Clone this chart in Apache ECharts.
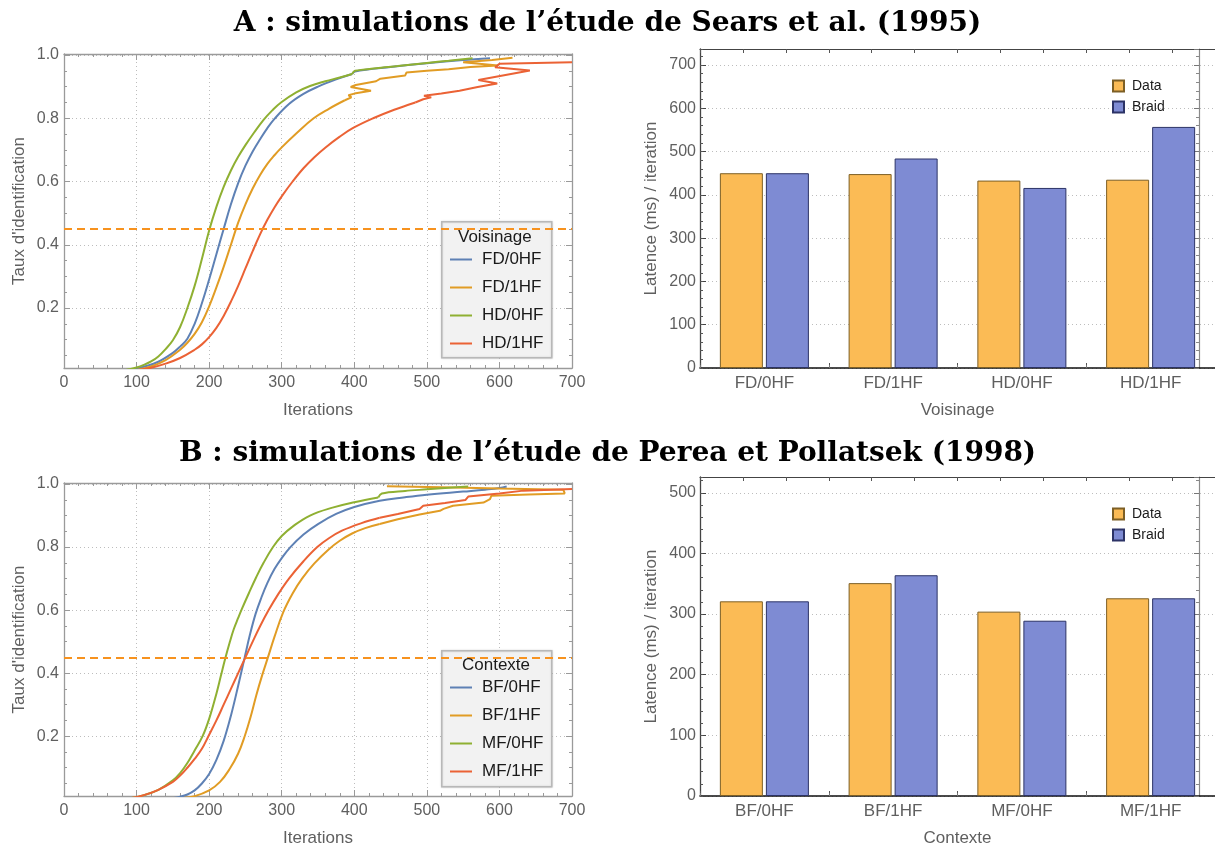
<!DOCTYPE html>
<html><head><meta charset="utf-8">
<script src="https://cdn.jsdelivr.net/npm/echarts@6/dist/echarts.min.js"></script>
<style>html,body{margin:0;padding:0;background:#fff}#c{width:1215px;height:848px}</style>
</head><body><div id="c"></div>
<script>
// ---------- DATA ----------
const titleA = "A : simulations de l\u2019étude de Sears et al. (1995)";
const titleB = "B : simulations de l\u2019étude de Perea et Pollatsek (1998)";
const lineNamesA = ['FD/0HF','FD/1HF','HD/0HF','HD/1HF'];
const lineNamesB = ['BF/0HF','BF/1HF','MF/0HF','MF/1HF'];
const legendTitleA = 'Voisinage';
const legendTitleB = 'Contexte';
const xTickLabels = ['0','100','200','300','400','500','600','700'];
const yTickLabels = ['0.2','0.4','0.6','0.8','1.0'];
const threshold = 0.45;

// Panel A curves (main part = smooth rise, tail = late part)
const A_FD0HF = [[93,0.004],[110,0.014],[130,0.03],[150,0.058],[160,0.078],[170,0.103],[180,0.15],[190,0.215],[200,0.29],[210,0.37],[220,0.45],[230,0.528],[240,0.595],[250,0.65],[260,0.695],[270,0.733],[280,0.768],[290,0.798],[310,0.845],[330,0.877],[350,0.9],[375,0.923],[397,0.94]];
const A_FD0HF_tail = [[397,0.94],[401,0.948],[450,0.962],[500,0.974],[550,0.984],[587,0.99]];
const A_FD1HF = [[100,0.004],[120,0.015],[140,0.035],[160,0.068],[170,0.09],[180,0.118],[190,0.155],[200,0.205],[210,0.265],[220,0.33],[230,0.4],[240,0.47],[250,0.528],[260,0.578],[270,0.62],[280,0.655],[290,0.683],[300,0.708],[320,0.752],[344,0.8],[365,0.83],[387,0.857]];
const A_FD1HF_tail = [[387,0.857],[396,0.866],[392,0.873],[400,0.878],[423,0.887],[395,0.899],[402,0.905],[430,0.917],[436,0.925],[470,0.935],[472,0.945],[500,0.95],[530,0.955],[560,0.962],[598,0.967],[598,0.972],[550,0.977],[549,0.982],[590,0.984],[618,0.991]];
const A_HD0HF = [[85,0.004],[100,0.012],[110,0.02],[120,0.031],[130,0.047],[140,0.07],[150,0.098],[160,0.14],[170,0.2],[180,0.27],[190,0.355],[200,0.445],[210,0.52],[220,0.583],[230,0.635],[240,0.678],[250,0.715],[262,0.755],[275,0.795],[287,0.825],[299,0.85],[320,0.882],[339,0.902],[360,0.917],[380,0.929],[397,0.94]];
const A_HD0HF_tail = [[397,0.94],[401,0.95],[430,0.958],[460,0.965],[500,0.975],[530,0.982],[563,0.99]];
const A_HD1HF = [[100,0.003],[120,0.011],[140,0.024],[160,0.042],[180,0.068],[190,0.085],[200,0.108],[210,0.137],[220,0.175],[230,0.22],[240,0.27],[250,0.325],[260,0.38],[270,0.432],[280,0.478],[290,0.518],[300,0.553],[315,0.6],[330,0.642],[345,0.677],[360,0.707],[380,0.742],[399,0.77],[426,0.8],[455,0.827],[484,0.85]];
const A_HD1HF_tail = [[484,0.85],[495,0.86],[506,0.866],[496,0.871],[520,0.878],[545,0.887],[570,0.899],[597,0.91],[571,0.921],[642,0.951],[594,0.961],[600,0.972],[650,0.975],[700,0.977]];

// Panel B curves
const B_BF0HF = [[146,0.002],[160,0.008],[170,0.015],[180,0.028],[190,0.05],[200,0.08],[210,0.125],[220,0.185],[230,0.265],[240,0.36],[249,0.45],[256,0.52],[264,0.588],[272,0.64],[280,0.685],[290,0.73],[300,0.765],[312,0.8],[330,0.84],[350,0.873],[375,0.905],[400,0.927],[435,0.947],[470,0.958],[500,0.966],[550,0.976],[580,0.982],[600,0.987],[610,0.992]];
const B_BF0HF_tail = [];
const B_BF1HF = [[160,0.003],[180,0.01],[200,0.028],[215,0.055],[228,0.095],[240,0.145],[249,0.2],[257,0.26],[265,0.33],[273,0.393],[281,0.45],[290,0.515],[302,0.593],[315,0.653],[328,0.7],[345,0.748],[365,0.793],[380,0.82],[397,0.843],[415,0.86],[435,0.873]];
const B_BF1HF_tail = [[435,0.873],[460,0.888],[490,0.903],[518,0.915],[523,0.921],[536,0.931],[578,0.941],[587,0.952],[589,0.963],[640,0.967],[690,0.97],[692,0.975],[688,0.982],[600,0.986],[520,0.99],[445,0.993]];
const B_MF0HF = [[93,0.004],[110,0.013],[130,0.03],[150,0.06],[160,0.083],[170,0.115],[180,0.155],[191,0.2],[200,0.255],[210,0.335],[216,0.39],[222,0.445],[228,0.495],[234,0.54],[240,0.575],[245,0.603],[255,0.655],[265,0.705],[275,0.75],[288,0.8],[300,0.835],[315,0.865],[339,0.9],[370,0.925],[400,0.942],[433,0.957]];
const B_MF0HF_tail = [[433,0.957],[438,0.97],[470,0.978],[500,0.983],[530,0.988],[557,0.992]];
const B_MF1HF = [[93,0.004],[110,0.013],[130,0.03],[150,0.055],[160,0.075],[170,0.1],[180,0.128],[190,0.16],[199,0.2],[210,0.25],[220,0.3],[230,0.35],[240,0.4],[250,0.45],[260,0.5],[270,0.548],[282,0.6],[295,0.65],[310,0.7],[330,0.755],[349,0.8],[365,0.828],[383,0.852],[410,0.876],[435,0.893]];
const B_MF1HF_tail = [[435,0.893],[460,0.905],[490,0.921],[495,0.931],[525,0.94],[553,0.949],[557,0.96],[600,0.97],[633,0.979],[700,0.984]];

const barCatsA = ['FD/0HF','FD/1HF','HD/0HF','HD/1HF'];
const barDataA = [450,448,433,435];
const barBraidA = [450,484,416,557];
const barCatsB = ['BF/0HF','BF/1HF','MF/0HF','MF/1HF'];
const barDataB = [321,351,304,326];
const barBraidB = [321,364,289,326];
const barNames = ['Data','Braid'];

// ---------- STYLE ----------
const FF = 'Liberation Sans, Arial, sans-serif';
const FRAME = '#9a9a9a';
const LBL = '#5f5f5f';
const LINE_COLORS = ['#5e81b5','#e19c24','#8fb032','#eb6235'];
const BAR_COLORS = ['#fbbb55','#7e8bd3'];
const BAR_BORDERS = ['#7d5f25','#2c3366'];
const GRIDLINE = {color:'#bdbdbd', type:[1,3], width:1};
const YMIN = 0.0103, YMAX = 1.0032;

const chart = echarts.init(document.getElementById('c'), null, {renderer:'canvas'});

const grids = [
  {left:64, top:54, width:508, height:314},
  {left:700, top:49, width:528, height:319},
  {left:64, top:483, width:508, height:314},
  {left:700, top:477, width:528, height:320}
];

const xAxes = [], yAxes = [], series = [];

function addLineChart(g, names, curves, yName){
  const xi = xAxes.length;
  xAxes.push({gridIndex:g, type:'value', min:0, max:700, interval:100, position:'bottom',
    axisLine:{show:true, onZero:false, lineStyle:{color:FRAME, width:1.3}},
    axisTick:{show:true, inside:true, length:6, lineStyle:{color:FRAME}},
    minorTick:{show:true, splitNumber:5, length:3, lineStyle:{color:FRAME}},
    axisLabel:{color:LBL, fontSize:16, margin:7, fontFamily:FF,
      formatter:v=>xTickLabels[Math.round(v/100)] || ''},
    splitLine:{show:true, lineStyle:GRIDLINE},
    name:'Iterations', nameLocation:'middle', nameGap:34,
    nameTextStyle:{color:LBL, fontSize:17, fontFamily:FF}});
  xAxes.push({gridIndex:g, type:'value', min:0, max:700, interval:100, position:'top',
    axisLine:{show:true, onZero:false, lineStyle:{color:FRAME, width:1.3}},
    axisTick:{show:true, inside:true, length:6, lineStyle:{color:FRAME}},
    minorTick:{show:true, splitNumber:5, length:3, lineStyle:{color:FRAME}},
    axisLabel:{show:false}, splitLine:{show:false}});
  const yi = yAxes.length;
  const yl = v => { const i = yTickLabels.indexOf(v.toFixed(1)); return (i>=0 && Math.abs(v-parseFloat(yTickLabels[i]))<1e-6) ? yTickLabels[i] : ''; };
  yAxes.push({gridIndex:g, type:'value', min:YMIN, max:YMAX, splitNumber:5, position:'left',
    axisLine:{show:true, onZero:false, lineStyle:{color:FRAME, width:1.3}},
    axisTick:{show:true, inside:true, length:6, lineStyle:{color:FRAME}},
    minorTick:{show:true, splitNumber:4, length:3, lineStyle:{color:FRAME}},
    axisLabel:{color:LBL, fontSize:16, margin:5, fontFamily:FF, formatter:yl, showMinLabel:true, showMaxLabel:true},
    splitLine:{show:true, lineStyle:GRIDLINE},
    name:yName, nameLocation:'middle', nameGap:36,
    nameTextStyle:{color:LBL, fontSize:17, fontFamily:FF}});
  yAxes.push({gridIndex:g, type:'value', min:YMIN, max:YMAX, splitNumber:5, position:'right',
    axisLine:{show:true, onZero:false, lineStyle:{color:FRAME, width:1.3}},
    axisTick:{show:true, inside:true, length:6, lineStyle:{color:FRAME}},
    minorTick:{show:true, splitNumber:4, length:3, lineStyle:{color:FRAME}},
    axisLabel:{show:false}, splitLine:{show:false}});
  names.forEach((n,i)=>{
    const c = curves[i];
    const s = {type:'line', name:n, xAxisIndex:xi, yAxisIndex:yi, data:c.main,
      symbol:'none', showSymbol:false, smooth:0.4, clip:true,
      lineStyle:{color:LINE_COLORS[i], width:2}, itemStyle:{color:LINE_COLORS[i]}, z:2};
    if(i===0){
      s.markLine = {silent:true, symbol:['none','none'], label:{show:false},
        lineStyle:{color:'#f7921e', type:[8,5], width:2}, data:[{yAxis:threshold}], animation:false};
    }
    series.push(s);
    if(c.tail.length){
      series.push({type:'line', name:n, xAxisIndex:xi, yAxisIndex:yi, data:c.tail,
        symbol:'none', showSymbol:false, smooth:c.tailSmooth ? 0.35 : false, clip:true,
        lineStyle:{color:LINE_COLORS[i], width:2}, itemStyle:{color:LINE_COLORS[i]}, z:2});
    }
  });
}

function addBarChart(g, cats, d1, d2, xName, ymax){
  const xi = xAxes.length;
  xAxes.push({gridIndex:g, type:'category', data:cats, position:'bottom',
    axisLine:{show:true, onZero:false, lineStyle:{color:'#111', width:1.6}},
    axisTick:{show:true, inside:true, length:5, lineStyle:{color:'#555'}},
    axisLabel:{color:LBL, fontSize:17, margin:7, fontFamily:FF},
    splitLine:{show:false},
    name:xName, nameLocation:'middle', nameGap:34,
    nameTextStyle:{color:LBL, fontSize:17, fontFamily:FF}});
  xAxes.push({gridIndex:g, type:'value', min:0, max:12, interval:1, position:'top',
    axisLine:{show:true, onZero:false, lineStyle:{color:'#444', width:1.2}},
    axisTick:{show:true, inside:true, length:4, lineStyle:{color:'#555'}},
    axisLabel:{show:false}, splitLine:{show:false}});
  xAxes.push({gridIndex:g, type:'value', min:0, max:12, interval:1, position:'bottom',
    axisLine:{show:false}, axisTick:{show:true, inside:true, length:3, lineStyle:{color:'#777'}},
    axisLabel:{show:false}, splitLine:{show:false}});
  const yi = yAxes.length;
  yAxes.push({gridIndex:g, type:'value', min:0, max:ymax, interval:100, position:'left',
    axisLine:{show:true, onZero:false, lineStyle:{color:'#444', width:1.3}},
    axisTick:{show:true, inside:true, length:6, lineStyle:{color:'#444'}},
    axisLabel:{color:LBL, fontSize:16, margin:4, fontFamily:FF,
      formatter:v=> (Math.abs(v%100)<1e-6 ? String(v) : '')},
    splitLine:{show:true, lineStyle:GRIDLINE},
    name:'Latence (ms) / iteration', nameLocation:'middle', nameGap:40,
    nameTextStyle:{color:LBL, fontSize:17, fontFamily:FF}});
  yAxes.push({gridIndex:g, type:'value', min:0, max:ymax, interval:20, position:'left',
    axisLine:{show:false}, axisTick:{show:true, inside:true, length:3, lineStyle:{color:'#555'}},
    axisLabel:{show:false}, splitLine:{show:false}});
  yAxes.push({gridIndex:g, type:'value', min:0, max:ymax, interval:100, position:'right', offset:-16,
    axisLine:{show:true, onZero:false, lineStyle:{color:'#8a8a8a', width:1.2}},
    axisTick:{show:true, inside:true, length:5, lineStyle:{color:'#777'}},
    minorTick:{show:true, splitNumber:5, length:3, lineStyle:{color:'#888'}},
    axisLabel:{show:false}, splitLine:{show:false}});
  [d1,d2].forEach((d,i)=>{
    series.push({type:'bar', name:barNames[i], xAxisIndex:xi, yAxisIndex:yi, data:d,
      barWidth:43, barGap:'7%',
      itemStyle:{color:BAR_COLORS[i], borderColor:BAR_BORDERS[i], borderWidth:1}, z:2});
  });
}

addLineChart(0, lineNamesA, [
  {main:A_FD0HF, tail:A_FD0HF_tail, tailSmooth:true},
  {main:A_FD1HF, tail:A_FD1HF_tail, tailSmooth:false},
  {main:A_HD0HF, tail:A_HD0HF_tail, tailSmooth:true},
  {main:A_HD1HF, tail:A_HD1HF_tail, tailSmooth:false}], "Taux d'identification");
addBarChart(1, barCatsA, barDataA, barBraidA, 'Voisinage', 737);
addLineChart(2, lineNamesB, [
  {main:B_BF0HF, tail:B_BF0HF_tail, tailSmooth:true},
  {main:B_BF1HF, tail:B_BF1HF_tail, tailSmooth:false},
  {main:B_MF0HF, tail:B_MF0HF_tail, tailSmooth:true},
  {main:B_MF1HF, tail:B_MF1HF_tail, tailSmooth:false}], "Taux d'identification");
addBarChart(3, barCatsB, barDataB, barBraidB, 'Contexte', 526);

const LINE_ICON = 'path://M0,0 L22,0 L22,2 L0,2 Z';
function lineLegend(names, top){
  return {data:names, orient:'vertical', left:450, top:top, padding:0, itemWidth:22, itemHeight:14, itemGap:11,
    icon:LINE_ICON,
    textStyle:{color:'#1a1a1a', fontSize:17, fontFamily:FF, padding:[0,0,0,5]}, z:10, selectedMode:false};
}
function barLegend(top){
  return {data:barNames, orient:'vertical', left:1112, top:top, padding:0, itemWidth:11, itemHeight:11, itemGap:7,
    icon:'rect', textStyle:{color:'#1a1a1a', fontSize:14, fontFamily:FF, padding:[0,0,0,3]}, z:10, selectedMode:false};
}

const option = {
  animation:false,
  backgroundColor:'#ffffff',
  title:[
    {text:titleA, left:'center', top:10, padding:0,
     textStyle:{fontFamily:'DejaVu Serif', fontWeight:'bold', fontSize:28, color:'#000'}},
    {text:titleB, left:'center', top:440, padding:0,
     textStyle:{fontFamily:'DejaVu Serif', fontWeight:'bold', fontSize:28, color:'#000'}}
  ],
  grid:grids,
  xAxis:xAxes,
  yAxis:yAxes,
  legend:[lineLegend(lineNamesA, 251), barLegend(79), lineLegend(lineNamesB, 679), barLegend(507)],
  graphic:[
    {type:'rect', left:441, top:221, z:5, shape:{width:110, height:136},
     style:{fill:'#f2f2f2', stroke:'#b8b8b8', lineWidth:1.5, shadowBlur:2, shadowColor:'rgba(0,0,0,0.15)'}},
    {type:'text', z:11, left:458, top:229,
     style:{text:legendTitleA, fontSize:17, fontFamily:FF, fill:'#1a1a1a'}},
    {type:'rect', left:441, top:650, z:5, shape:{width:110, height:136},
     style:{fill:'#f2f2f2', stroke:'#b8b8b8', lineWidth:1.5, shadowBlur:2, shadowColor:'rgba(0,0,0,0.15)'}},
    {type:'text', z:11, left:462, top:657,
     style:{text:legendTitleB, fontSize:17, fontFamily:FF, fill:'#1a1a1a'}}
  ],
  series:series
};
chart.setOption(option);
</script>
</body></html>
